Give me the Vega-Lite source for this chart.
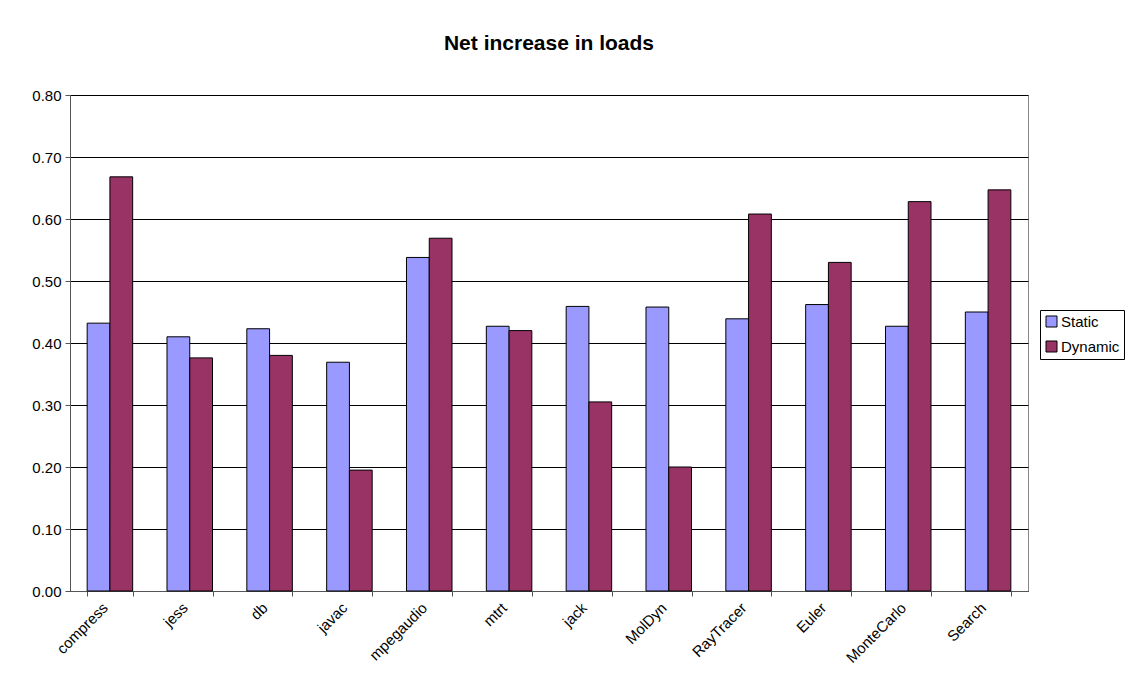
{
  "$schema": "https://vega.github.io/schema/vega-lite/v6.json",
  "width": 958,
  "height": 496,
  "autosize": {"type": "none"},
  "padding": {"left": 70, "top": 95, "right": 98, "bottom": 103},
  "background": "white",
  "title": {"text": "Net increase in loads", "fontSize": 21, "font": "Liberation Sans", "fontWeight": "bold", "color": "black", "offset": 34, "anchor": "middle"},
  "data": {"values": [
    {"benchmark": "compress", "series": "Static", "value": 0.432},
    {"benchmark": "compress", "series": "Dynamic", "value": 0.668},
    {"benchmark": "jess", "series": "Static", "value": 0.410},
    {"benchmark": "jess", "series": "Dynamic", "value": 0.376},
    {"benchmark": "db", "series": "Static", "value": 0.423},
    {"benchmark": "db", "series": "Dynamic", "value": 0.380},
    {"benchmark": "javac", "series": "Static", "value": 0.369},
    {"benchmark": "javac", "series": "Dynamic", "value": 0.195},
    {"benchmark": "mpegaudio", "series": "Static", "value": 0.538},
    {"benchmark": "mpegaudio", "series": "Dynamic", "value": 0.569},
    {"benchmark": "mtrt", "series": "Static", "value": 0.427},
    {"benchmark": "mtrt", "series": "Dynamic", "value": 0.420},
    {"benchmark": "jack", "series": "Static", "value": 0.459},
    {"benchmark": "jack", "series": "Dynamic", "value": 0.305},
    {"benchmark": "MolDyn", "series": "Static", "value": 0.458},
    {"benchmark": "MolDyn", "series": "Dynamic", "value": 0.200},
    {"benchmark": "RayTracer", "series": "Static", "value": 0.439},
    {"benchmark": "RayTracer", "series": "Dynamic", "value": 0.608},
    {"benchmark": "Euler", "series": "Static", "value": 0.462},
    {"benchmark": "Euler", "series": "Dynamic", "value": 0.530},
    {"benchmark": "MonteCarlo", "series": "Static", "value": 0.427},
    {"benchmark": "MonteCarlo", "series": "Dynamic", "value": 0.628},
    {"benchmark": "Search", "series": "Static", "value": 0.450},
    {"benchmark": "Search", "series": "Dynamic", "value": 0.647}
  ]},
  "mark": {"type": "bar", "stroke": "black", "strokeWidth": 1},
  "encoding": {
    "x": {
      "field": "benchmark", "type": "nominal", "sort": null, "title": null,
      "scale": {"paddingInner": 0.43, "paddingOuter": 0.215},
      "axis": {"labelAngle": -45, "labelAlign": "right", "labelBaseline": "top", "labelFontSize": 15, "labelFont": "Liberation Sans", "labelColor": "black", "labelPadding": 4, "labelOffset": -10, "tickBand": "extent", "tickSize": 5, "tickColor": "#555", "domainColor": "#555", "grid": false}
    },
    "xOffset": {"field": "series", "type": "nominal", "sort": ["Static", "Dynamic"]},
    "y": {
      "field": "value", "type": "quantitative", "title": null,
      "scale": {"domain": [0, 0.8], "nice": false},
      "axis": {"values": [0, 0.1, 0.2, 0.3, 0.4, 0.5, 0.6, 0.7, 0.8], "format": ".2f", "labelFontSize": 15, "labelFont": "Liberation Sans", "labelColor": "black", "labelPadding": 4, "tickSize": 5, "tickColor": "#555", "domainColor": "#555", "grid": true, "gridColor": "black", "gridWidth": 1, "gridOpacity": 1}
    },
    "color": {
      "field": "series", "type": "nominal", "sort": ["Static", "Dynamic"],
      "scale": {"domain": ["Static", "Dynamic"], "range": ["#9999FF", "#993366"]},
      "legend": {"title": null, "orient": "none", "legendX": 970, "legendY": 215, "symbolType": "square", "symbolSize": 121, "symbolStrokeColor": "black", "symbolStrokeWidth": 1, "labelFontSize": 15, "labelFont": "Liberation Sans", "labelColor": "black", "strokeColor": "black", "padding": 4, "rowPadding": 9, "labelOffset": 2}
    }
  },
  "config": {"view": {"stroke": "#888", "strokeWidth": 1}}
}
